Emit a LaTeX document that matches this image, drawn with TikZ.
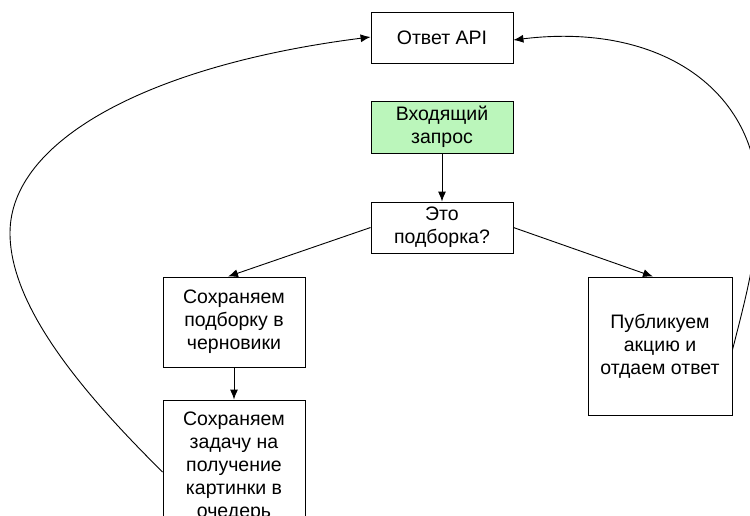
\documentclass[tikz,border=0pt]{standalone}
\usepackage{fontspec}
\setmainfont{Liberation Sans}
\usetikzlibrary{arrows.meta}
\definecolor{startgreen}{RGB}{187,246,187}

\begin{document}
\begin{tikzpicture}[x=1pt,y=-1pt,line width=0.9pt,>={Latex[length=10pt,width=8pt]},
  box/.style={draw,align=center,minimum width=142pt,
    font=\fontsize{19.5}{23}\selectfont}]
  \clip (0,0) rectangle (750,515); %page is cut like the reference
  \node[box,minimum height=51pt] (answer) at (442,37.5) {Ответ API};
  \node[box,minimum height=52pt,fill=startgreen] (incoming) at (442,127) {Входящий\\запрос};
  \node[box,minimum height=51pt] (decision) at (442,227.5) {Это\\подборка?};
  \node[box,minimum height=90pt] (draft) at (234,322) {Сохраняем\\подборку в\\черновики};
  \node[box,minimum height=134pt] (task) at (234,467) {Сохраняем\\задачу на\\получение\\картинки в\\очедерь};
  \node[box,minimum height=138pt,minimum width=144pt] (publish) at (660,346) {Публикуем\\акцию и\\отдаем ответ};

  \draw[->] (incoming) -- (decision);
  \draw[->] (decision.west) -- ([xshift=-6pt]draft.north);
  \draw[->] (decision.east) -- ([xshift=-7pt]publish.north);
  \draw[->] (draft) -- (task);

  \draw[->] ([yshift=-5pt]task.west) .. controls (90,400) and (10,310) .. (10,233)
    .. controls (10,140) and (150,65) .. ([yshift=0.5pt]answer.west);
  \draw[->] ([yshift=-4pt]publish.east) .. controls (745,300) and (758,255) .. (758,200)
    .. controls (758,90) and (660,22) .. ([yshift=-2.5pt]answer.east);
\end{tikzpicture}
\end{document}
